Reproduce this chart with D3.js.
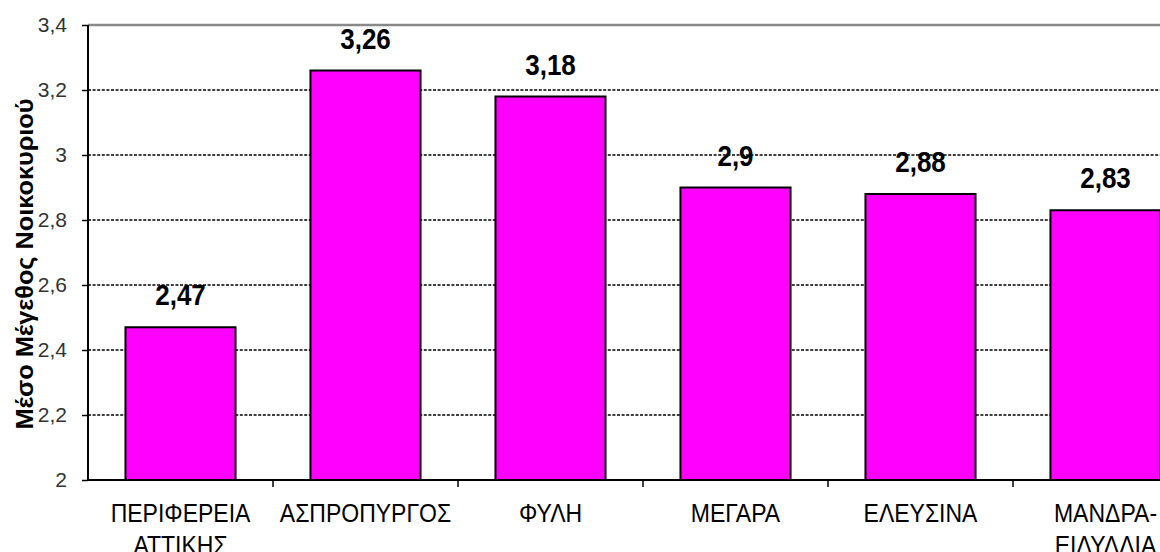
<!DOCTYPE html>
<html>
<head>
<meta charset="utf-8">
<script src="https://cdn.jsdelivr.net/npm/d3@7"></script>
<style>
  body { margin: 0; background: #fff; }
  text { font-family: "Liberation Sans", Arial, sans-serif; }
</style>
</head>
<body>
<div id="chart"></div>
<script>
// Chart data
var areas = [
  ["ΠΕΡΙΦΕΡΕΙΑ", "ΑΤΤΙΚΗΣ"],
  ["ΑΣΠΡΟΠΥΡΓΟΣ"],
  ["ΦΥΛΗ"],
  ["ΜΕΓΑΡΑ"],
  ["ΕΛΕΥΣΙΝΑ"],
  ["ΜΑΝΔΡΑ-", "ΕΙΔΥΛΛΙΑ"]
];
var householdSize = [2.47, 3.26, 3.18, 2.9, 2.88, 2.83];
var yTicks = [2, 2.2, 2.4, 2.6, 2.8, 3, 3.2, 3.4];
var yTitle = "Μέσο Μέγεθος Νοικοκυριού";

// SVG area
var svgWidth = 1160;
var svgHeight = 552;

var Margin = { top: 25, left: 88, bottom: 72 };
var height = svgHeight - Margin.top - Margin.bottom;
// the plot runs past the right edge of the picture
var width = 1110;

var svg = d3.select("#chart")
  .append("svg")
  .attr("width", svgWidth)
  .attr("height", svgHeight)
  .style("display", "block");

var chartGroup = svg.append("g")
  .attr("transform", `translate(${Margin.left}, ${Margin.top})`);

// Scales
var xBandScale = d3.scaleBand()
  .domain(d3.range(areas.length))
  .range([0, width])
  .paddingInner(0.405)
  .paddingOuter(0.2025);

var yLinearScale = d3.scaleLinear()
  .domain([2, 3.4])
  .range([height, 0]);

var comma = d => String(d).replace(".", ",");

// Gridlines
chartGroup.selectAll(".grid")
  .data(yTicks.filter(t => t > 2 && t < 3.4))
  .enter()
  .append("line")
  .attr("x1", 0)
  .attr("x2", svgWidth)
  .attr("y1", d => yLinearScale(d))
  .attr("y2", d => yLinearScale(d))
  .attr("stroke", "#000")
  .attr("stroke-width", 1.3)
  .attr("stroke-dasharray", "3,1.6");

// Top frame line
chartGroup.append("line")
  .attr("x1", 0)
  .attr("x2", svgWidth)
  .attr("y1", yLinearScale(3.4))
  .attr("y2", yLinearScale(3.4))
  .attr("stroke", "#888")
  .attr("stroke-width", 2.5);

// Bars
chartGroup.selectAll(".bar")
  .data(householdSize)
  .enter()
  .append("rect")
  .attr("x", (d, i) => xBandScale(i))
  .attr("y", d => yLinearScale(d))
  .attr("width", xBandScale.bandwidth())
  .attr("height", d => height - yLinearScale(d))
  .attr("fill", "#ff00ff")
  .attr("stroke", "#000")
  .attr("stroke-width", 2);

// Value labels
chartGroup.selectAll(".value")
  .data(householdSize)
  .enter()
  .append("text")
  .attr("transform", (d, i) =>
    `translate(${xBandScale(i) + xBandScale.bandwidth() / 2}, ${yLinearScale(d) - 22}) scale(1, 1.1)`)
  .attr("text-anchor", "middle")
  .attr("font-size", "26px")
  .attr("font-weight", "bold")
  .attr("fill", "#000")
  .text(d => comma(d));

// Y axis
var leftAxis = d3.axisLeft(yLinearScale)
  .tickValues(yTicks)
  .tickFormat(comma)
  .tickSize(6)
  .tickPadding(15);

var yAxis = chartGroup.append("g").call(leftAxis);
yAxis.select(".domain").attr("stroke-width", 2).attr("d", `M0,0V${height}`);
yAxis.selectAll(".tick line").attr("stroke-width", 1.5);
yAxis.selectAll(".tick text")
  .attr("font-size", "21px")
  .attr("fill", "#333")
  .attr("font-family", "Liberation Sans, Arial, sans-serif");

// X axis line and ticks between categories
chartGroup.append("line")
  .attr("x1", 0)
  .attr("x2", svgWidth)
  .attr("y1", height)
  .attr("y2", height)
  .attr("stroke", "#000")
  .attr("stroke-width", 2);

chartGroup.selectAll(".xtick")
  .data(d3.range(1, areas.length))
  .enter()
  .append("line")
  .attr("x1", i => xBandScale.step() * i)
  .attr("x2", i => xBandScale.step() * i)
  .attr("y1", height)
  .attr("y2", height + 7)
  .attr("stroke", "#000")
  .attr("stroke-width", 1.5);

// Category labels
var catLabels = chartGroup.selectAll(".cat")
  .data(areas)
  .enter()
  .append("g")
  .attr("transform", (d, i) =>
    `translate(${xBandScale(i) + xBandScale.bandwidth() / 2}, ${height + 42}) scale(1, 1.13)`);

catLabels.selectAll("text")
  .data(d => d)
  .enter()
  .append("text")
  .attr("y", (d, j) => j * 28)
  .attr("text-anchor", "middle")
  .attr("font-size", "23px")
  .attr("fill", "#000")
  .text(d => d);

// Y axis title
svg.append("text")
  .attr("transform", `translate(33, ${264}) rotate(-90) scale(1.1, 1)`)
  .attr("text-anchor", "middle")
  .attr("font-size", "23px")
  .attr("font-weight", "bold")
  .attr("fill", "#000")
  .text(yTitle);
</script>
</body>
</html>
